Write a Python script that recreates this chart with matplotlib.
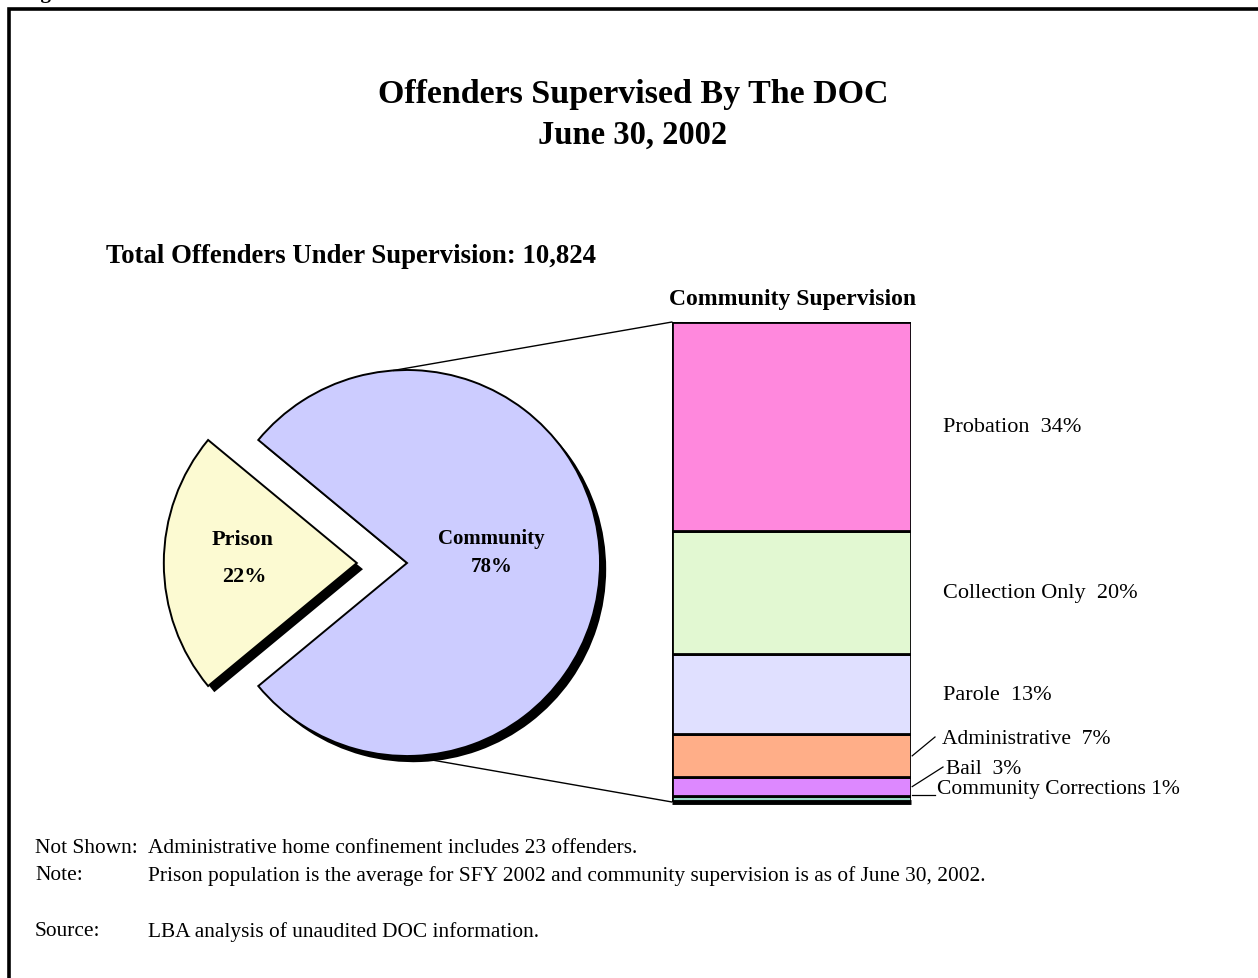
"""Offenders supervised by the DOC: pie of prison vs community with a stacked bar breakdown."""

import numpy as np
import matplotlib.pyplot as plt
from matplotlib.patches import ConnectionPatch

plt.rcParams["font.family"] = ["Liberation Serif", "DejaVu Serif"]

# pie data
pie_labels = ["Prison", "Community"]
pie_values = [22, 78]
pie_colors = ["#FCFAD2", "#CCCCFF"]

# community supervision breakdown (bottom to top)
bar_labels = ["Community Corrections", "Bail", "Administrative", "Parole",
              "Collection Only", "Probation"]
bar_values = [1, 3, 7, 13, 20, 34]
bar_colors = ["#99D9C8", "#DD88FF", "#FFAE88", "#E0E0FF", "#E2F8D2", "#FF88DD"]

W, H = 1258, 979


def main() -> None:
    fig = plt.figure(figsize=(W / 100, H / 100), dpi=100)

    # pie axes: centre at pixel (407, 564), radius 193 px
    cx, cy, r_px, half = 407, 564, 193, 250
    span = half / r_px
    ax_pie = fig.add_axes([(cx - half) / W, (H - cy - half) / H,
                           2 * half / W, 2 * half / H])

    start = 180 - pie_values[0] / sum(pie_values) * 360 / 2
    explode = [0.26, 0]
    shadow_off = 0.032
    ax_pie.pie(pie_values, colors=["black", "black"], explode=explode,
               startangle=start, center=(shadow_off, -shadow_off),
               wedgeprops=dict(linewidth=0), frame=True)
    ax_pie.pie(pie_values, colors=pie_colors, explode=explode,
               startangle=start,
               wedgeprops=dict(edgecolor="black", linewidth=1.4),
               frame=True)
    ax_pie.set_xlim(-span, span)
    ax_pie.set_ylim(-span, span)
    ax_pie.set_aspect("equal")
    ax_pie.axis("off")

    # stacked bar axes: pixel x 672..911, y 323..803
    bx0, bx1, by0, by1 = 672, 911, 323, 803
    ax_bar = fig.add_axes([bx0 / W, (H - by1) / H, (bx1 - bx0) / W, (by1 - by0) / H])
    total = sum(bar_values)
    bottoms = np.concatenate([[0], np.cumsum(bar_values)[:-1]])
    ax_bar.bar(0, bar_values, bottom=bottoms, width=1, color=bar_colors,
               edgecolor="black", linewidth=2.0)
    ax_bar.set_xlim(-0.5, 0.5)
    ax_bar.set_ylim(0, total)
    ax_bar.axis("off")
    ax_bar.plot([-0.5, 0.5], [0, 0], color="black", lw=3.5, clip_on=False,
                solid_capstyle="butt")

    trans = ax_bar.get_yaxis_transform()
    px_per = (by1 - by0) / total
    frac = lambda px: (px - bx0) / (bx1 - bx0)
    # small segments: text position (pixel) and leader end (pixel)
    small = {
        "Administrative": (942, 740, 935, 738),
        "Bail": (946, 770, 943, 768),
        "Community Corrections": (937, 790, 935, 796),
    }
    for lab, val, b in zip(bar_labels, bar_values, bottoms):
        mid = b + val / 2
        sep = " " if lab == "Community Corrections" else "  "
        txt = f"{lab}{sep}{val}%"
        if lab not in small:
            ax_bar.text(frac(943), mid, txt, transform=trans, fontsize=16,
                        ha="left", va="center")
        else:
            tx, ty, lx, ly = small[lab]
            ax_bar.text(frac(tx), (by1 - ty) / px_per, txt, transform=trans,
                        fontsize=15.5, ha="left", va="center")
            y_end = (by1 - ly) / px_per
            y_start = y_end if lab == "Community Corrections" else mid
            ax_bar.plot([frac(bx1) + 0.005, frac(lx)], [y_start, y_end],
                        transform=trans, color="black", lw=0.9, clip_on=False)

    # connector lines from pie to bar
    for ang, by in [(94.1, total), (270.6, 0)]:
        a = np.deg2rad(ang)
        con = ConnectionPatch(xyA=(np.cos(a), np.sin(a)), coordsA=ax_pie.transData,
                              xyB=(-0.5, by), coordsB=ax_bar.transData,
                              color="black", lw=1)
        fig.add_artist(con)

    # overlay axes in pixel coordinates for the frame and the texts
    bg = fig.add_axes([0, 0, 1, 1])
    bg.patch.set_visible(False)
    bg.set_xlim(0, W)
    bg.set_ylim(H, 0)
    bg.axis("off")

    bg.plot([8.5, 8.5, W + 5], [H + 5, 9.5, 9.5], color="black", lw=2.6,
            solid_joinstyle="miter")
    bg.text(22, -2, "Figure 2", fontsize=15, fontweight="bold", va="baseline")

    bg.text(633, 95, "Offenders Supervised By The DOC", fontsize=24.5,
            fontweight="bold", ha="center", va="center")
    bg.text(633, 135, "June 30, 2002", fontsize=23.5, fontweight="bold",
            ha="center", va="center")
    bg.text(106, 257, "Total Offenders Under Supervision: 10,824", fontsize=19.3,
            fontweight="bold", ha="left", va="center")
    bg.text(793, 300, "Community Supervision", fontsize=17,
            fontweight="bold", ha="center", va="center")

    label_pos = [(243, 540, 577, 16), (491, 539, 567, 15)]
    for (x, y0, y1, fs), lab, val in zip(label_pos, pie_labels, pie_values):
        bg.text(x, y0, lab, fontsize=fs, fontweight="bold", ha="center", va="center")
        bg.text(x + 1, y1, f"{val}%", fontsize=fs, fontweight="bold",
                ha="center", va="center")

    foot = [
        (849, "Not Shown:", "Administrative home confinement includes 23 offenders."),
        (876, "Note:", "Prison population is the average for SFY 2002 and "
                       "community supervision is as of June 30, 2002."),
        (932, "Source:", "LBA analysis of unaudited DOC information."),
    ]
    for y, head, body in foot:
        bg.text(35, y, head, fontsize=15.4, ha="left", va="center")
        bg.text(148, y, body, fontsize=15.4, ha="left", va="center")

    fig.savefig("out.png", dpi=100)
    plt.close(fig)


if __name__ == "__main__":
    main()
